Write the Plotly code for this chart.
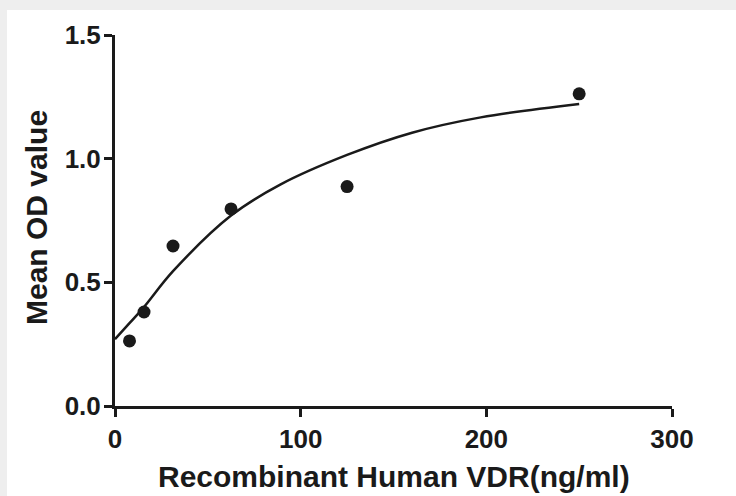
import plotly.graph_objects as go

# Measured data points
conc = [7.81, 15.63, 31.25, 62.5, 125, 250]
mean_od = [0.263, 0.38, 0.647, 0.797, 0.887, 1.262]

# Fitted curve
curve_x = [0, 7.8, 15.6, 31.25, 62.5, 89, 125, 160, 197, 250]
curve_y = [0.27, 0.335, 0.4, 0.545, 0.77, 0.895, 1.015, 1.105, 1.167, 1.221]

x_ticks = [0, 100, 200, 300]
y_ticks = [0.0, 0.5, 1.0, 1.5]
y_tick_labels = ["0.0", "0.5", "1.0", "1.5"]

x_title = "Recombinant Human VDR(ng/ml)"
y_title = "Mean OD value"

W, H = 736, 496
L, R, T, B = 115, 64, 35, 90
pw, ph = W - L - R, H - T - B

font_family = "Liberation Sans, Arial, sans-serif"
ink = "#1a1a1a"

fig = go.Figure()
fig.add_trace(go.Scatter(
    x=curve_x, y=curve_y, mode="lines",
    line=dict(color=ink, width=2.5, shape="spline", smoothing=1.0),
    hoverinfo="skip", showlegend=False,
))
fig.add_trace(go.Scatter(
    x=conc, y=mean_od, mode="markers",
    marker=dict(color=ink, size=13, symbol="circle"),
    showlegend=False,
))

# white panel over the grey page
fig.add_shape(
    type="rect", xref="paper", yref="paper", layer="below",
    x0=(7 - L) / pw, x1=(W - L + 5) / pw,
    y0=-(B + 5) / ph, y1=(H - B - 10) / ph,
    fillcolor="white", line=dict(width=0),
)

axis_common = dict(
    showline=True, linewidth=3, linecolor=ink,
    ticks="outside", ticklen=8, tickwidth=3, tickcolor=ink,
    showgrid=False, zeroline=False,
    tickfont=dict(family=font_family, size=26, color=ink, weight="bold"),
)

# axis titles placed as annotations (pixel positions converted to paper units)
fig.add_annotation(
    text=x_title, xref="paper", yref="paper",
    x=(394 - L) / pw, y=(H - B - 476) / ph,
    xanchor="center", yanchor="middle", showarrow=False,
    font=dict(family=font_family, size=30, color=ink, weight="bold"),
)
fig.add_annotation(
    text=y_title, xref="paper", yref="paper", textangle=-90,
    x=(36 - L) / pw, y=(H - B - 218) / ph,
    xanchor="center", yanchor="middle", showarrow=False,
    font=dict(family=font_family, size=30, color=ink, weight="bold"),
)

fig.update_layout(
    width=W, height=H,
    margin=dict(l=L, r=R, t=T, b=B, autoexpand=False),
    paper_bgcolor="#eeeeee",
    plot_bgcolor="white",
    xaxis=dict(range=[0, 300], tickvals=x_ticks, **axis_common),
    yaxis=dict(
        range=[0, 1.5], tickvals=y_ticks, ticktext=y_tick_labels, **axis_common,
        ticklabelstandoff=-2,
    ),
)

fig.write_html(
    "out.html",
    config={"displayModeBar": False},
    post_script="document.body.style.margin='0';document.body.style.background='#eeeeee';",
)
